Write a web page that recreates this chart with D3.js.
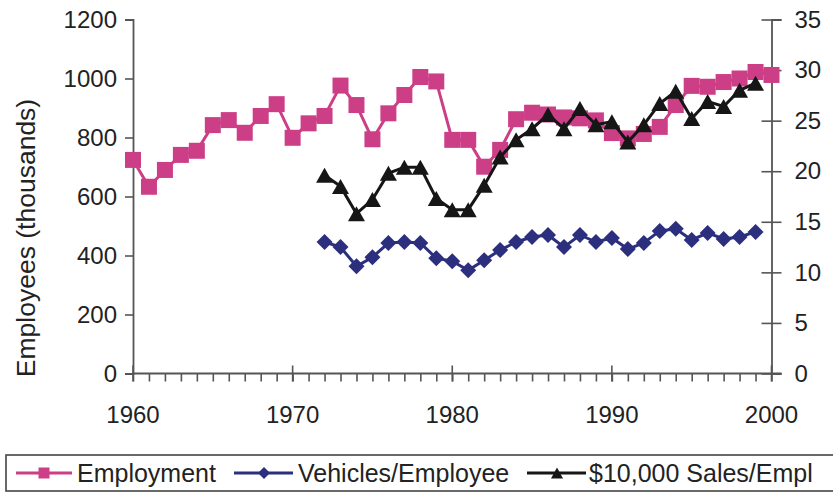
<!DOCTYPE html>
<html>
<head>
<meta charset="utf-8">
<script src="https://cdn.jsdelivr.net/npm/d3@7"></script>
<style>
  body { margin: 0; background: #fff; }
  svg { display: block; font-family: "Liberation Sans", Arial, sans-serif; }
</style>
</head>
<body>
<svg id="chart" width="833" height="494"></svg>
<script>
// employment years and values (thousands)
var empYears = [1960,1961,1962,1963,1964,1965,1966,1967,1968,1969,
    1970,1971,1972,1973,1974,1975,1976,1977,1978,1979,
    1980,1981,1982,1983,1984,1985,1986,1987,1988,1989,
    1990,1991,1992,1993,1994,1995,1996,1997,1998,1999,2000];
var employment = [724,633,690,741,755,842,859,816,873,913,
    799,848,873,976,910,794,882,944,1005,990,
    792,792,701,758,862,884,878,868,865,858,
    815,797,812,836,910,975,972,988,1000,1022,1012];

// right axis series, 1972-1999
var ratioYears = [1972,1973,1974,1975,1976,1977,1978,1979,
    1980,1981,1982,1983,1984,1985,1986,1987,1988,1989,
    1990,1991,1992,1993,1994,1995,1996,1997,1998,1999];
var vehicles = [13.0,12.5,10.6,11.5,12.9,13.0,12.9,11.4,
    11.1,10.2,11.2,12.2,13.0,13.5,13.7,12.5,13.7,13.0,
    13.4,12.3,12.9,14.1,14.3,13.2,13.9,13.3,13.5,14.0];
var sales = [19.6,18.5,15.8,17.2,19.8,20.4,20.4,17.3,
    16.2,16.2,18.6,21.4,23.1,24.2,25.6,24.2,26.2,24.6,
    24.9,22.9,24.6,26.7,27.9,25.2,26.9,26.4,28.0,28.7];

var leftTicks = [0,200,400,600,800,1000,1200];
var rightTicks = [0,5,10,15,20,25,30,35];
var xTicks = [1960,1970,1980,1990,2000];
var legendLabels = ["Employment", "Vehicles/Employee", "$10,000 Sales/Empl"];

var pink = "#cc3f87", navy = "#2c2f7e", black = "#161616", axisCol = "#555";

var svg = d3.select("#chart");
var pLeft = 133, pRight = 771.5, pTop = 19.5, pBottom = 373.5;

var x = d3.scaleLinear().domain([1960, 2000]).range([pLeft, pRight]);
var yL = d3.scaleLinear().domain([0, 1200]).range([pBottom, pTop]);
var yR = d3.scaleLinear().domain([0, 35]).range([pBottom, pTop]);

//x axis: minor ticks each year below, major ticks crossing
var xAxis = svg.append("g").attr("transform", "translate(0," + pBottom + ")");
xAxis.call(d3.axisBottom(x).tickValues(d3.range(1960, 2001)).tickSize(8).tickFormat(""));
xAxis.selectAll("line").attr("stroke", axisCol).attr("stroke-width", 1.6);
xAxis.select(".domain").remove();
xAxis.append("line").attr("x1", pLeft).attr("x2", pRight + 10)
    .attr("stroke", axisCol).attr("stroke-width", 1.8);
xAxis.selectAll(".major").data(xTicks).enter().append("line")
    .attr("x1", function(d) { return x(d); }).attr("x2", function(d) { return x(d); })
    .attr("y1", -8).attr("y2", 8)
    .attr("stroke", axisCol).attr("stroke-width", 1.6);
xAxis.selectAll(".lbl").data(xTicks).enter().append("text")
    .attr("x", function(d) { return x(d); })
    .attr("y", 49.5)
    .attr("text-anchor", "middle")
    .style("font-size", "24px")
    .attr("fill", "#222")
    .text(function(d) { return d; });

//left axis
var lAxis = svg.append("g").attr("transform", "translate(" + pLeft + ",0)");
lAxis.call(d3.axisLeft(yL).tickValues(leftTicks).tickSize(8).tickPadding(8).tickFormat(d3.format("d")));
lAxis.select(".domain").attr("stroke", axisCol).attr("stroke-width", 1.8);
lAxis.selectAll("line").attr("stroke", axisCol).attr("stroke-width", 1.6);
lAxis.selectAll("text").style("font-size", "24px").attr("fill", "#222")
    .attr("font-family", "Liberation Sans, Arial, sans-serif");

//right axis, ticks crossing the line
var rAxis = svg.append("g").attr("transform", "translate(" + pRight + ",0)");
rAxis.call(d3.axisRight(yR).tickValues(rightTicks).tickSize(10).tickPadding(13));
rAxis.select(".domain").attr("stroke", axisCol).attr("stroke-width", 1.8);
rAxis.selectAll("line").attr("x1", -10).attr("stroke", axisCol).attr("stroke-width", 1.6);
rAxis.selectAll("text").style("font-size", "24px").attr("fill", "#222")
    .attr("font-family", "Liberation Sans, Arial, sans-serif");

svg.append("text")
    .attr("transform", "translate(35,238) rotate(-90)")
    .attr("text-anchor", "middle")
    .style("font-size", "26.5px")
    .attr("fill", "#222")
    .text("Employees (thousands)");

// marker shapes
function squarePath(s) { return "M" + (-s/2) + "," + (-s/2) + "h" + s + "v" + s + "h" + (-s) + "Z"; }
function diamondPath(s) { return "M0," + (-s/2) + "L" + (s/2) + ",0L0," + (s/2) + "L" + (-s/2) + ",0Z"; }
function trianglePath(w, h) { return "M0," + (-h/2) + "L" + (w/2) + "," + (h/2) + "L" + (-w/2) + "," + (h/2) + "Z"; }

function drawSeries(years, vals, yScale, color, marker) {
    var pts = years.map(function(yr, i) { return [x(yr), yScale(vals[i])]; });
    svg.append("path")
        .attr("d", d3.line()(pts))
        .attr("fill", "none")
        .attr("stroke", color)
        .attr("stroke-width", 3);
    svg.append("g").selectAll("path").data(pts).enter().append("path")
        .attr("transform", function(d) { return "translate(" + d[0] + "," + d[1] + ")"; })
        .attr("d", marker)
        .attr("fill", color);
}

drawSeries(empYears, employment, yL, pink, squarePath(16));
drawSeries(ratioYears, vehicles, yR, navy, diamondPath(16));
drawSeries(ratioYears, sales, yR, black, trianglePath(17, 15));

//legend
var lg = svg.append("g");
lg.append("rect").attr("x", 6).attr("y", 455).attr("width", 850).attr("height", 36)
    .attr("fill", "none").attr("stroke", "#444").attr("stroke-width", 1.6);
var legItems = [
    {lx1: 16, lx2: 72, mx: 44, tx: 77, color: pink, marker: squarePath(11)},
    {lx1: 234, lx2: 293, mx: 264, tx: 298, color: navy, marker: diamondPath(12)},
    {lx1: 527, lx2: 586, mx: 557, tx: 589, color: black, marker: trianglePath(12, 11)}
];
legItems.forEach(function(it, i) {
    lg.append("line").attr("x1", it.lx1).attr("x2", it.lx2).attr("y1", 473).attr("y2", 473)
        .attr("stroke", it.color).attr("stroke-width", 3);
    lg.append("path").attr("transform", "translate(" + it.mx + ",473)")
        .attr("d", it.marker).attr("fill", it.color);
    lg.append("text").attr("x", it.tx).attr("y", 482)
        .style("font-size", "25px").attr("fill", "#222")
        .text(legendLabels[i]);
});
</script>
</body>
</html>
